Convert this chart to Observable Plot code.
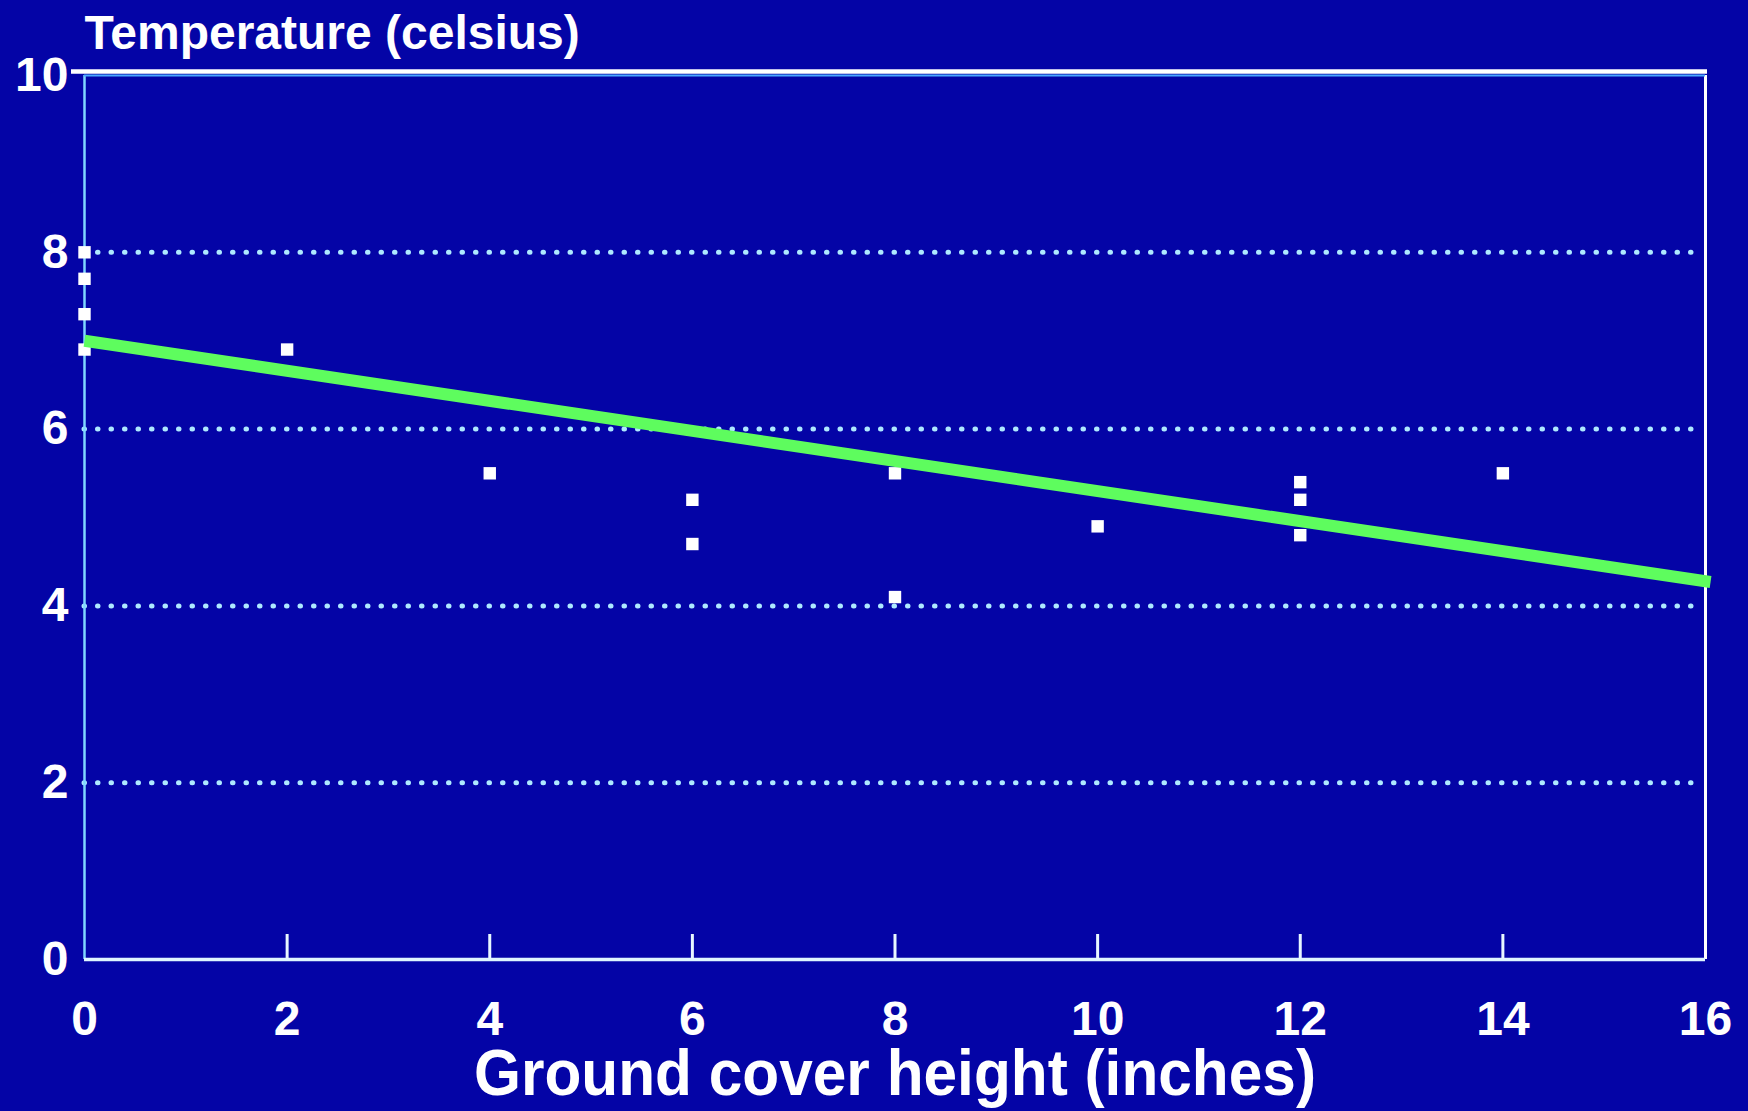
<!DOCTYPE html>
<html><head><meta charset="utf-8">
<script src="https://cdn.jsdelivr.net/npm/d3@7"></script>
<script src="https://cdn.jsdelivr.net/npm/@observablehq/plot@0.6"></script>
<style>html,body{margin:0;padding:0;background:#0404a6;overflow:hidden}</style>
</head><body><div id="chart"></div>
<script>
// Ground cover height (inches) and measured temperature (celsius)
const heights = [0, 0, 0, 0, 2, 4, 6, 6, 8, 8, 10, 12, 12, 12, 14];
const temps   = [8.0, 7.7, 7.3, 6.9, 6.9, 5.5, 5.2, 4.7, 5.5, 4.1, 4.9, 5.4, 5.2, 4.8, 5.5];
// Fitted trend line (end points)
const trendX = [0, 16.05];
const trendY = [7.0, 4.27];
const xTicks = [0, 2, 4, 6, 8, 10, 12, 14, 16];
const yTicks = [0, 2, 4, 6, 8, 10];
const gridValues = [2, 4, 6, 8];
const yTitle = "Temperature (celsius)";
const xTitle = "Ground cover height (inches)";

const data = heights.map((h, i) => ({height: h, temp: temps[i]}));
const trend = trendX.map((x, i) => ({height: x, temp: trendY[i]}));

const bg = "#0404a6";
const font = "'Liberation Sans', Arial, Helvetica, sans-serif";

const chart = Plot.plot({
  width: 1748, height: 1111,
  marginLeft: 84, marginRight: 43, marginTop: 75, marginBottom: 152,
  style: {background: bg, color: "white", fontFamily: font},
  x: {domain: [0, 16], label: null},
  y: {domain: [0, 10], label: null},
  marks: [
    Plot.ruleY(gridValues, {stroke: "#aee9ff", strokeWidth: 5, strokeDasharray: "0.5,13", strokeLinecap: "round", insetRight: 6}),
    Plot.ruleX([0], {stroke: "#7fd6ff", strokeWidth: 2.5}),
    Plot.ruleX([16], {stroke: "white", strokeWidth: 3}),
    Plot.ruleY([10], {stroke: "#4aa8ff", strokeWidth: 2}),
    Plot.ruleY([10], {stroke: "white", strokeWidth: 4.5, dy: -4, insetLeft: -13, insetRight: -2}),
    Plot.ruleY([0], {stroke: "#dff6ff", strokeWidth: 3.5}),
    Plot.axisX({ticks: xTicks.slice(1, -1), tickSize: 25, dy: -25, tickFormat: () => "", stroke: "#e8f8ff", strokeWidth: 3, label: null}),
    Plot.axisX({ticks: xTicks, tickSize: 0, tickPadding: 41, fontSize: 48, fontWeight: "bold", fill: "white", label: null}),
    Plot.axisY({ticks: yTicks, tickSize: 0, tickPadding: 16, fontSize: 48, fontWeight: "bold", fill: "white", label: null}),
    Plot.dot(data, {x: "height", y: "temp", symbol: "square", r: 7, fill: "white"}),
    Plot.line(trend, {x: "height", y: "temp", stroke: "#5efc5e", strokeWidth: 12, strokeLinecap: "butt"}),
    Plot.text([yTitle], {frameAnchor: "top-left", textAnchor: "start", lineAnchor: "middle", dy: -42, fontSize: 48, fontWeight: "bold", fill: "white"}),
    Plot.text([xTitle], {frameAnchor: "bottom", lineAnchor: "middle", dy: 115, fontSize: 64, fontWeight: "bold", fill: "white"})
  ]
});
document.getElementById("chart").appendChild(chart);
d3.select(chart).selectAll("text")
  .filter(function () { return this.textContent === xTitle; })
  .attr("textLength", 842)
  .attr("lengthAdjust", "spacingAndGlyphs");
</script>
</body></html>
